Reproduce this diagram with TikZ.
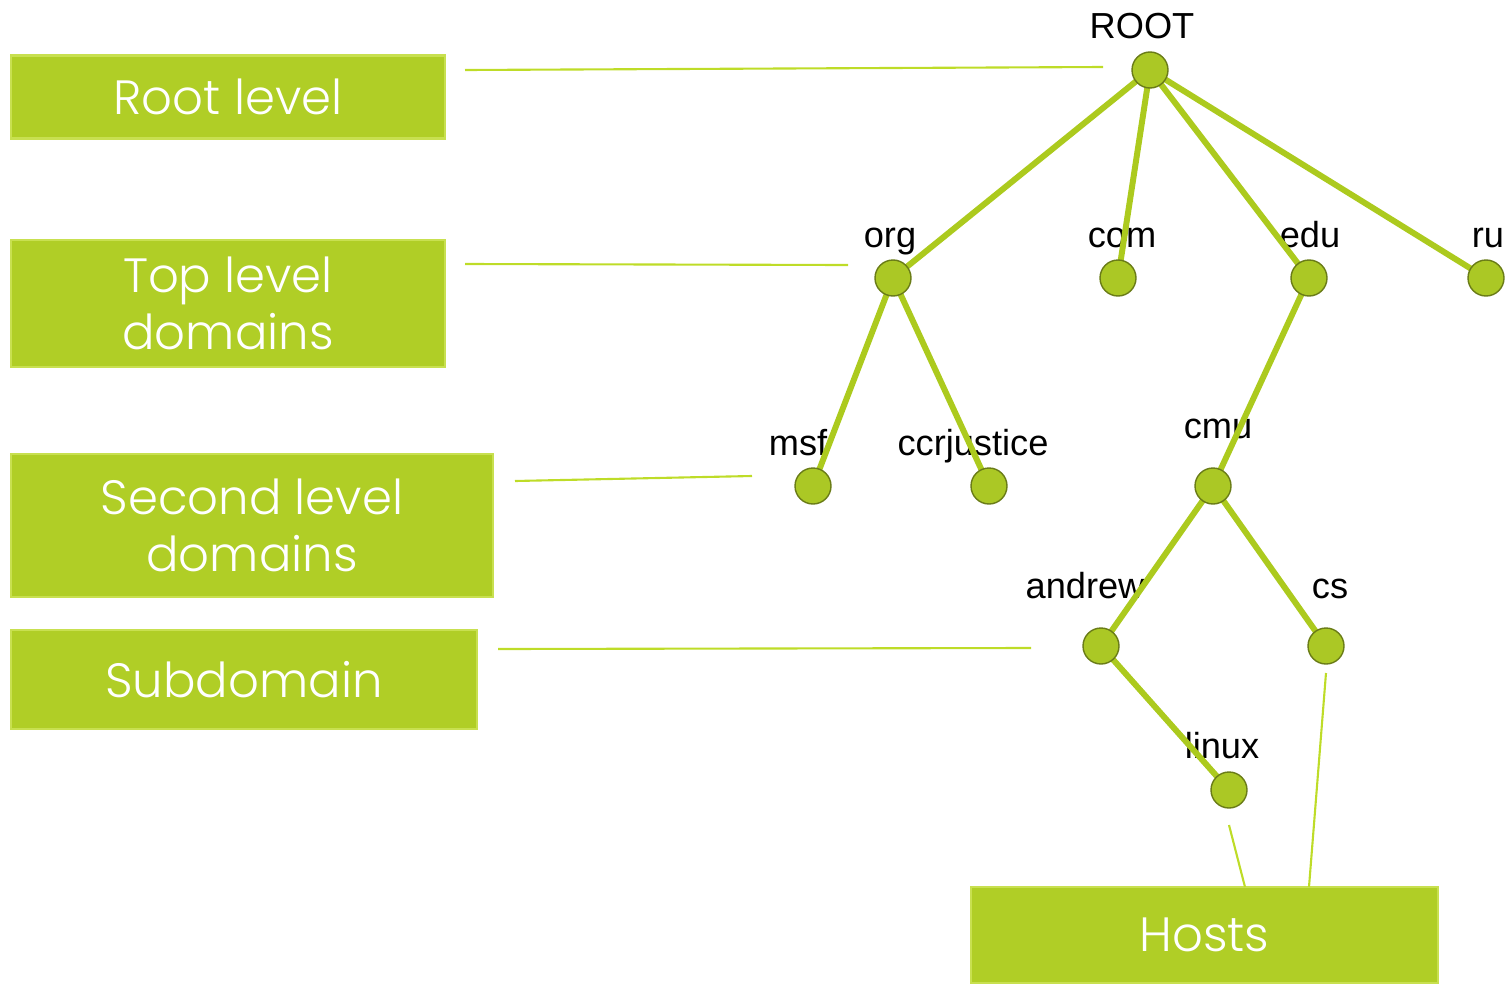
\documentclass[tikz,border=0pt]{standalone}
\usepackage{fontspec}
\setmainfont{Liberation Sans}
\newfontfamily\boxfont{Poppins Light}
\pgfdeclarelayer{bg}
\pgfsetlayers{bg,main}
\definecolor{lime}{RGB}{176,206,38}
\definecolor{limeedge}{RGB}{200,224,80}
\definecolor{limeline}{RGB}{172,202,30}
\definecolor{thinline}{RGB}{190,220,40}
\tikzset{
  levelbox/.style={draw=limeedge, line width=0.6pt, fill=lime, text=white, font=\boxfont\fontsize{13.7}{16.2}\selectfont, align=center, inner sep=0pt},
  ball/.style={circle, minimum size=0.36cm, inner sep=0pt, draw=lime!60!black, line width=0.4pt, fill=lime!97!black},
  lbl/.style={font=\fontsize{10.3}{12}\selectfont, inner sep=0pt, text=black, anchor=base},
  edge/.style={draw=limeline, line width=1.7pt},
  thin/.style={draw=thinline, line width=0.6pt}
}
\begin{document}
\begin{tikzpicture}
\useasboundingbox (0,0) rectangle (15.06,9.83);
% level boxes
\node[levelbox, minimum width=4.34cm, minimum height=0.83cm] (rootlevel) at (2.28,8.86) {Root level};
\node[levelbox, minimum width=4.34cm, minimum height=1.27cm] (toplevel) at (2.28,6.795) {Top level\\domains};
\node[levelbox, minimum width=4.82cm, minimum height=1.43cm] (secondlevel) at (2.52,4.575) {Second level\\domains};
\node[levelbox, minimum width=4.66cm, minimum height=0.99cm] (subdomain) at (2.44,3.035) {Subdomain};
\node[levelbox, minimum width=4.67cm, minimum height=0.96cm] (hosts) at (12.045,0.48) {Hosts};
% tree balls
\node[ball] (root) at (11.50,9.13) {};
\node[ball] (org) at (8.93,7.05) {};
\node[ball] (com) at (11.18,7.05) {};
\node[ball] (edu) at (13.09,7.05) {};
\node[ball] (ru) at (14.86,7.05) {};
\node[ball] (msf) at (8.13,4.97) {};
\node[ball] (ccr) at (9.89,4.97) {};
\node[ball] (cmu) at (12.13,4.97) {};
\node[ball] (andrew) at (11.01,3.37) {};
\node[ball] (cs) at (13.26,3.37) {};
\node[ball] (linux) at (12.29,1.93) {};
\begin{pgfonlayer}{bg}
% labels (baselines)
\node[lbl] (lroot) at (11.42,9.45) {ROOT};
\node[lbl] (lorg) at (8.90,7.36) {org};
\node[lbl] (lcom) at (11.22,7.36) {com};
\node[lbl] (ledu) at (13.10,7.36) {edu};
\node[lbl] (lru) at (14.88,7.36) {ru};
\node[lbl] (lmsf) at (7.98,5.28) {msf};
\node[lbl] (lccr) at (9.73,5.28) {ccrjustice};
\node[lbl] (lcmu) at (12.18,5.45) {cmu};
\node[lbl] (landrew) at (10.85,3.85) {andrew};
\node[lbl] (lcs) at (13.30,3.85) {cs};
\node[lbl] (llinux) at (12.22,2.25) {linux};
% tree edges
\draw[edge] (root.center) -- (org.center);
\draw[edge] (root.center) -- (com.center);
\draw[edge] (root.center) -- (edu.center);
\draw[edge] (root.center) -- (ru.center);
\draw[edge] (org.center) -- (msf.center);
\draw[edge] (org.center) -- (ccr.center);
\draw[edge] (edu.center) -- (cmu.center);
\draw[edge] (cmu.center) -- (andrew.center);
\draw[edge] (cmu.center) -- (cs.center);
\draw[edge] (andrew.center) -- (linux.center);
\end{pgfonlayer}
% thin connectors from level boxes
\coordinate (r1) at (4.65,9.13); \coordinate (r2) at (11.03,9.16);
\coordinate (t1) at (4.65,7.19); \coordinate (t2) at (8.48,7.18);
\coordinate (s1) at (5.15,5.02); \coordinate (s2) at (7.52,5.07);
\coordinate (d1) at (4.98,3.34); \coordinate (d2) at (10.31,3.35);
\coordinate (h1) at (12.29,1.58); \coordinate (h2) at (12.45,0.96);
\coordinate (h3) at (13.26,3.10); \coordinate (h4) at (13.09,0.96);
\draw[thin] (r1) -- (r2);
\draw[thin] (t1) -- (t2);
\draw[thin] (s1) -- (s2);
\draw[thin] (d1) -- (d2);
\draw[thin] (h1) -- (h2);
\draw[thin] (h3) -- (h4);
\end{tikzpicture}
\end{document}
